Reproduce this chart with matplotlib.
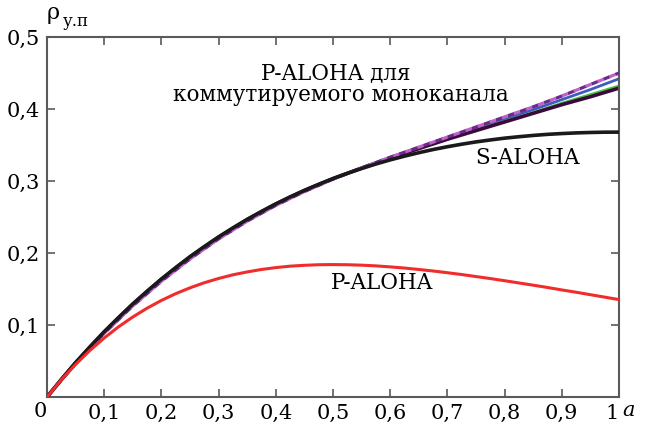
import matplotlib
matplotlib.use("Agg")
import matplotlib.pyplot as plt

plt.rcParams["font.family"] = ["DejaVu Serif"]

# load a (offered traffic), fine grid for the two classic curves
a_fine = [0.0, 0.025, 0.05, 0.075, 0.1, 0.125, 0.15, 0.175, 0.2, 0.225, 0.25,
          0.275, 0.3, 0.325, 0.35, 0.375, 0.4, 0.425, 0.45, 0.475, 0.5,
          0.525, 0.55, 0.575, 0.6, 0.625, 0.65, 0.675, 0.7, 0.725, 0.75,
          0.775, 0.8, 0.825, 0.85, 0.875, 0.9, 0.925, 0.95, 0.975, 1.0]

s_aloha = [0.0, 0.0244, 0.0476, 0.0696, 0.0905, 0.1103, 0.1291, 0.1469, 0.1637,
           0.1797, 0.1947, 0.2089, 0.2222, 0.2348, 0.2466, 0.2577, 0.2681,
           0.2779, 0.2869, 0.2954, 0.3033, 0.3106, 0.3173, 0.3236, 0.3293,
           0.3345, 0.3393, 0.3437, 0.3476, 0.3511, 0.3543, 0.3570, 0.3595,
           0.3615, 0.3633, 0.3648, 0.3659, 0.3668, 0.3674, 0.3678, 0.3679]
p_aloha = [0.0, 0.0238, 0.0452, 0.0646, 0.0819, 0.0974, 0.1111, 0.1233, 0.1341,
           0.1435, 0.1516, 0.1587, 0.1646, 0.1697, 0.1737, 0.1771, 0.1797,
           0.1817, 0.1829, 0.1837, 0.1839, 0.1837, 0.1831, 0.1821, 0.1807,
           0.1791, 0.1771, 0.1750, 0.1726, 0.1701, 0.1673, 0.1645, 0.1615,
           0.1584, 0.1553, 0.1521, 0.1487, 0.1455, 0.1421, 0.1387, 0.1353]

# P-ALOHA for the switched mono-channel (several variants)
a = [0.0, 0.05, 0.1, 0.15, 0.2, 0.25, 0.3, 0.35, 0.4, 0.45, 0.5,
     0.55, 0.6, 0.65, 0.7, 0.75, 0.8, 0.85, 0.9, 0.95, 1.0]
sw_black = [0.0, 0.0476, 0.0905, 0.1291, 0.1637, 0.1947, 0.2222, 0.2466, 0.2681,
            0.2869, 0.3033, 0.318, 0.332, 0.345, 0.358, 0.370, 0.382, 0.394,
            0.406, 0.417, 0.429]
sw_green = [0.0, 0.0474, 0.0902, 0.1287, 0.1632, 0.1942, 0.2217, 0.2461, 0.2677,
            0.2866, 0.3032, 0.318, 0.332, 0.345, 0.358, 0.371, 0.383, 0.395,
            0.408, 0.420, 0.432]
sw_blue = [0.0, 0.0470, 0.0895, 0.1278, 0.1622, 0.1932, 0.2208, 0.2453, 0.2670,
           0.2860, 0.3030, 0.318, 0.333, 0.346, 0.360, 0.373, 0.386, 0.399,
           0.413, 0.427, 0.442]
sw_purple = [0.0, 0.0465, 0.0885, 0.1265, 0.1607, 0.1917, 0.2195, 0.2442, 0.2661,
             0.2853, 0.3025, 0.318, 0.333, 0.347, 0.361, 0.375, 0.389, 0.403,
             0.418, 0.434, 0.450]

xticks = [0.1, 0.2, 0.3, 0.4, 0.5, 0.6, 0.7, 0.8, 0.9, 1.0]
xlabels = ["0,1", "0,2", "0,3", "0,4", "0,5", "0,6", "0,7", "0,8", "0,9", "1"]
yticks = [0.1, 0.2, 0.3, 0.4, 0.5]
ylabels = ["0,1", "0,2", "0,3", "0,4", "0,5"]

fig = plt.figure(figsize=(6.48, 4.23), dpi=100)
ax = fig.add_axes([0.0725, 0.0615, 0.8827, 0.851])

ax.plot(a, sw_purple, color="#6a2a8a", lw=2.3, ls=(0, (2.4, 1.6)), zorder=3)
ax.plot(a, sw_purple, color="#c060c8", lw=2.3, ls=(2.0, (2.0, 2.0)), zorder=3)
ax.plot(a, sw_blue, color="#3c5cc0", lw=2.0, zorder=2)
ax.plot(a, sw_green, color="#4cc040", lw=2.0, zorder=2)
ax.plot(a, sw_black, color="#3a0a3c", lw=2.6, zorder=2)
ax.plot(a_fine, s_aloha, color="#1a1a1a", lw=2.6, zorder=4)
ax.plot(a_fine, p_aloha, color="#f02c2c", lw=2.2, zorder=4)

ax.set_xlim(0, 1)
ax.set_ylim(0, 0.5)

for side in ["left", "right", "top", "bottom"]:
    ax.spines[side].set_color("#5a5a5a")
    ax.spines[side].set_linewidth(1.5)

ax.set_xticks(xticks)
ax.set_xticklabels(xlabels)
ax.set_yticks(yticks)
ax.set_yticklabels(ylabels)
ax.tick_params(direction="in", length=6, width=1.2, color="#5a5a5a",
               top=True, right=True, labelsize=15, pad=5)
ax.get_xticklabels()[-1].set_horizontalalignment("right")

ax.text(-0.012, -0.04, "0", transform=ax.transAxes, ha="center", va="center",
        fontsize=15, clip_on=False)
ax.text(1.016, -0.037, "a", transform=ax.transAxes, ha="center", va="center",
        fontsize=15, style="italic", clip_on=False)
ax.text(0.0, 1.035, "ρ", transform=ax.transAxes, ha="left", va="bottom",
        fontsize=16, clip_on=False)
ax.text(0.027, 1.02, "у.п", transform=ax.transAxes, ha="left", va="bottom",
        fontsize=12, clip_on=False)

ax.text(0.504, 0.45, "P-ALOHA для", fontsize=15.5, ha="center", va="center")
ax.text(0.513, 0.419, "коммутируемого моноканала", fontsize=15.5,
        ha="center", va="center")
ax.text(0.84, 0.332, "S-ALOHA", fontsize=15.5, ha="center", va="center")
ax.text(0.585, 0.158, "P-ALOHA", fontsize=15.5, ha="center", va="center")

fig.savefig("out.png", dpi=100)
